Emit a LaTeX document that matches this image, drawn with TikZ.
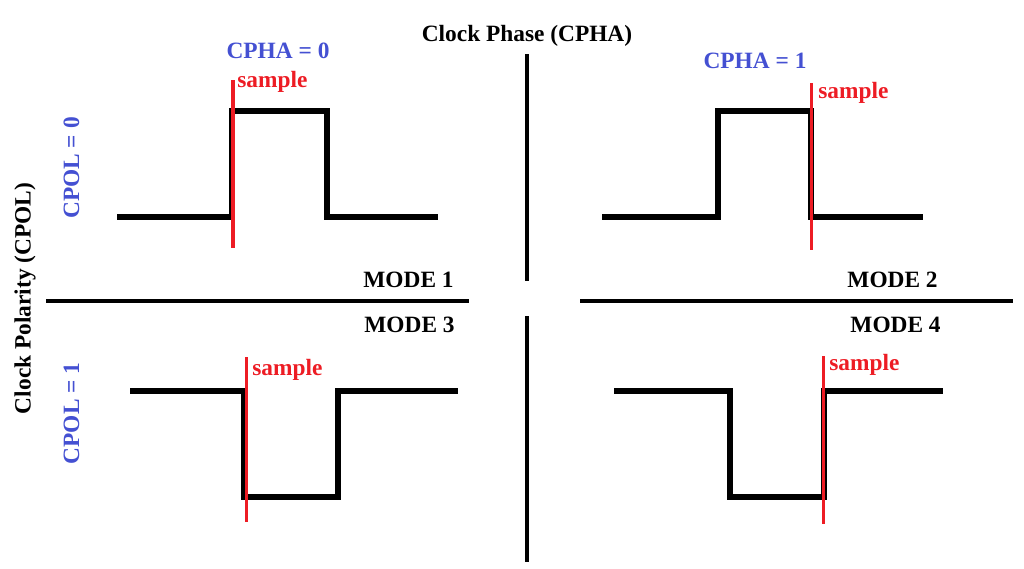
\documentclass[tikz,border=0pt]{standalone}
\usepackage{fontspec}
\setmainfont{Liberation Serif}
\usepackage{tikz}

\begin{document}
\begin{tikzpicture}[x=0.02cm, y=-0.02cm,
        every node/.style={inner sep=0pt, font=\bfseries\fontsize{13.3}{15}\selectfont},
        divider/.style={line width=1.9pt, black},
        wave/.style={line width=3pt, black, line join=miter},
        sampleline/.style={line width=2pt, sampleRed},
        samplelabel/.style={sampleRed, anchor=base west},
        modelabel/.style={anchor=base east},
        cfglabel/.style={cfgBlue, anchor=base}]
            \xdefinecolor{cfgBlue}{RGB}{68, 80, 210}
            \xdefinecolor{sampleRed}{RGB}{237, 28, 36}
            \useasboundingbox (0, 0) rectangle (1024, 568);

            % Axis titles
            \node[anchor=base] (CPHA) at (527, 41) {Clock Phase (CPHA)};
            \node[anchor=base, rotate=90] (CPOL) at (30.5, 298.5) {Clock Polarity (CPOL)};

            % Dividers between the four modes
            \coordinate (Vtop-a) at (527, 54);
            \coordinate (Vtop-b) at (527, 281);
            \coordinate (Vbot-a) at (527, 316);
            \coordinate (Vbot-b) at (527, 562);
            \coordinate (Hleft-a) at (46, 301);
            \coordinate (Hleft-b) at (469, 301);
            \coordinate (Hright-a) at (580, 301);
            \coordinate (Hright-b) at (1013, 301);
            \draw[divider] (Vtop-a) -- (Vtop-b);
            \draw[divider] (Vbot-a) -- (Vbot-b);
            \draw[divider] (Hleft-a) -- (Hleft-b);
            \draw[divider] (Hright-a) -- (Hright-b);

            % Phase and polarity settings
            \node[cfglabel] (CPHA0) at (278, 58) {CPHA = 0};
            \node[cfglabel] (CPHA1) at (755, 68) {CPHA = 1};
            \node[cfglabel, rotate=90] (CPOL0) at (79, 168) {CPOL = 0};
            \node[cfglabel, rotate=90] (CPOL1) at (79, 413.5) {CPOL = 1};

            % Mode names
            \foreach \x/\y [count=\i] in {454/287, 938/287, 455/332, 941/332} {
                    \node[modelabel] (Mode\i) at (\x, \y) {MODE \i};
                }

            % Clock waveforms
            \draw[wave] (117, 217) -- (232, 217) -- (232, 111) -- (327, 111) -- (327, 217) -- (438, 217);
            \draw[wave] (602, 217) -- (718, 217) -- (718, 111) -- (811, 111) -- (811, 217) -- (923, 217);
            \draw[wave] (130, 391) -- (244, 391) -- (244, 497) -- (338, 497) -- (338, 391) -- (458, 391);
            \draw[wave] (614, 391) -- (730, 391) -- (730, 497) -- (824, 497) -- (824, 391) -- (943, 391);

            % Sampling edges
            \foreach \x/\ya/\yb/\lx/\ly [count=\i] in {233/80/248/237/87, 811.5/83/250/818/98,
                    246.5/357/522/252/375, 823.5/356/524/829/370} {
                    \draw[sampleline] (\x, \ya) -- (\x, \yb);
                    \node[samplelabel] (Sample\i) at (\lx, \ly) {sample};
                }
\end{tikzpicture}
\end{document}
